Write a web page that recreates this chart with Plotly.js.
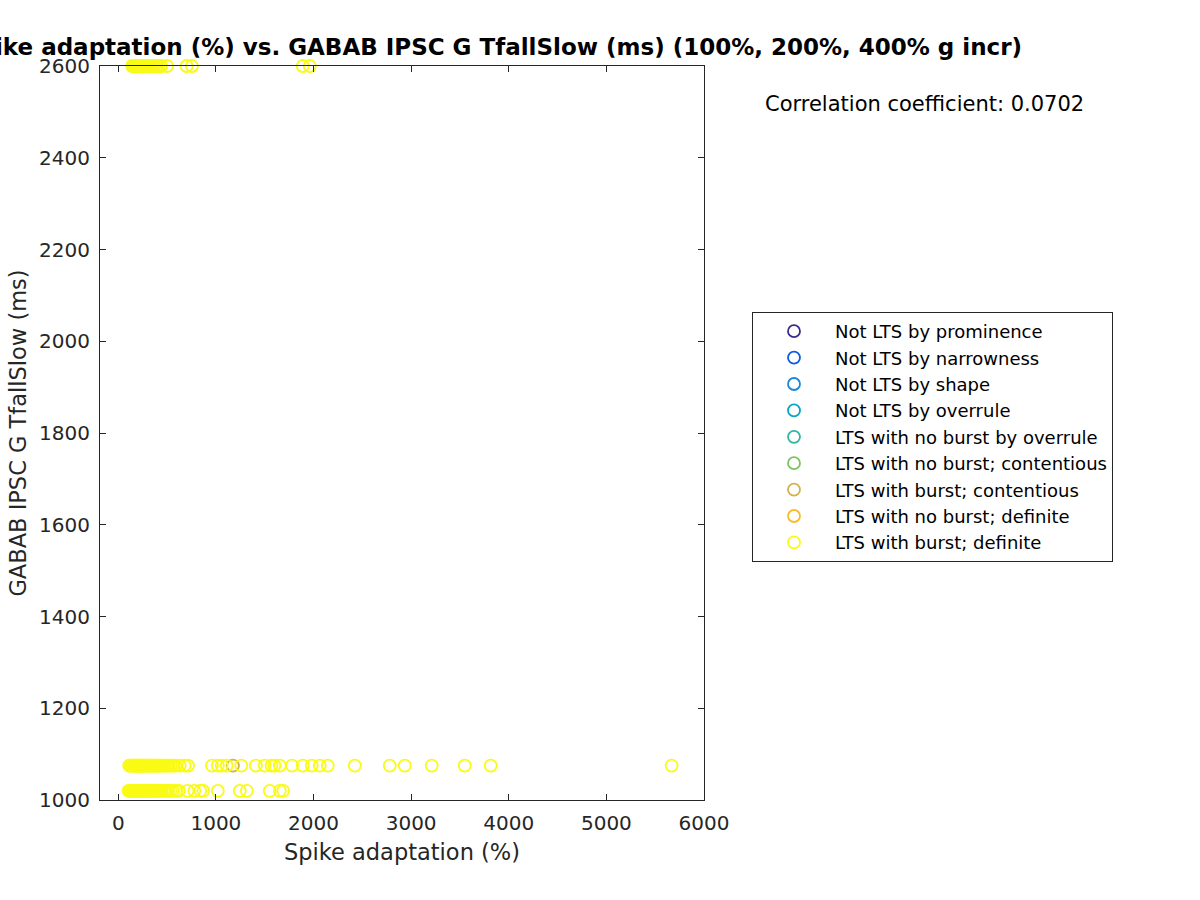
<!DOCTYPE html>
<html>
<head>
<meta charset="utf-8">
<script src="https://cdn.plot.ly/plotly-3.0.1.min.js"></script>
<style>html,body{margin:0;padding:0;background:#fff;}#chart{width:1200px;height:900px;}</style>
</head>
<body>
<div id="chart"></div>
<script>
// Category names (legend order)
var categories = [
  "Not LTS by prominence",
  "Not LTS by narrowness",
  "Not LTS by shape",
  "Not LTS by overrule",
  "LTS with no burst by overrule",
  "LTS with no burst; contentious",
  "LTS with burst; contentious",
  "LTS with no burst; definite",
  "LTS with burst; definite"
];
var categoryColors = ["#3B2A8E","#0A5CE0","#1B87DA","#05A5C8","#2EB69F","#80C162","#D3B24B","#FCBB2D","#F9FB15"];

// Y levels (ms) at which points sit
var yLevels = [2600, 1075, 1020];

// "LTS with burst; definite": spike adaptation (%) at each level
var xBurstDef2600 = [142, 155, 168, 180, 192, 205, 218, 232, 246, 261, 277, 293, 310, 328, 347, 367, 390, 415, 440, 500, 700, 755, 1890, 1962];
var xBurstDef1075 = [112, 125, 138, 146, 155, 163, 172, 181, 190, 198, 207, 215, 224, 233, 241, 250, 262, 271, 283, 295, 306, 318, 330, 342, 355, 368, 381, 395, 410, 426, 442, 460, 478, 497, 518, 540, 562, 585,
                     630, 680, 715, 960, 1020, 1060, 1110, 1260, 1410, 1500, 1570, 1600, 1655, 1780, 1890, 1982, 2064, 2146, 2423, 2781, 2935, 3211, 3549, 3815, 5668];
var xBurstDef1020 = [105, 118, 130, 141, 152, 161, 170, 180, 189, 199, 208, 218, 229, 240, 251, 263, 275, 288, 301, 314, 328, 343, 358, 374, 390, 407, 425, 444, 465, 487, 510, 535, 560, 590,
                     620, 710, 780, 840, 870, 1020, 1245, 1317, 1552, 1655, 1690];

// "LTS with burst; contentious"
var xBurstCont = [1175];
var yBurstCont = [1075];

var xAxisTicks = [0, 1000, 2000, 3000, 4000, 5000, 6000];
var yAxisTicks = [1000, 1200, 1400, 1600, 1800, 2000, 2200, 2400, 2600];

var corrText = "Correlation coefficient: 0.0702";

function levelArray(xs, y) { return xs.map(function () { return y; }); }

var xBurstDef = xBurstDef2600.concat(xBurstDef1075, xBurstDef1020);
var yBurstDef = levelArray(xBurstDef2600, yLevels[0]).concat(levelArray(xBurstDef1075, yLevels[1]), levelArray(xBurstDef1020, yLevels[2]));

var seriesX = [[null],[null],[null],[null],[null],[null], xBurstCont, [null], xBurstDef];
var seriesY = [[null],[null],[null],[null],[null],[null], yBurstCont, [null], yBurstDef];

var traces = categories.map(function (name, i) {
  return {
    type: "scatter",
    mode: "markers",
    name: name,
    x: seriesX[i],
    y: seriesY[i],
    cliponaxis: false,
    marker: { symbol: "circle-open", size: 12, color: categoryColors[i], line: { width: 1.8, color: categoryColors[i] } },
    hoverinfo: "x+y"
  };
});

var fontFam = "DejaVu Sans, sans-serif";
var axisCommon = {
  showgrid: false,
  zeroline: false,
  showline: true,
  linecolor: "#262626",
  linewidth: 1,
  mirror: "allticks",
  ticks: "inside",
  ticklen: 6,
  tickcolor: "#262626",
  tickfont: { family: fontFam, size: 20, color: "#262626" }
};

var layout = {
  width: 1200,
  height: 900,
  paper_bgcolor: "#ffffff",
  plot_bgcolor: "#ffffff",
  margin: { l: 100, r: 496, t: 66, b: 100 },
  showlegend: true,
  title: {
    text: "Spike adaptation (%) vs. GABAB IPSC G TfallSlow (ms) (100%, 200%, 400% g incr)",
    font: { family: fontFam, size: 23, color: "#000000", weight: "bold" },
    xref: "paper", x: (492 - 100) / 604, xanchor: "center",
    yref: "container", y: 1 - 47 / 900, yanchor: "middle"
  },
  xaxis: Object.assign({}, axisCommon, {
    range: [-187, 6000],
    tickvals: xAxisTicks,
    ticktext: xAxisTicks.map(String),
    ticklabelstandoff: 5,
    title: { text: "Spike adaptation (%)", font: { family: fontFam, size: 22.5, color: "#262626" }, standoff: 10 }
  }),
  yaxis: Object.assign({}, axisCommon, {
    range: [1000, 2600],
    tickvals: yAxisTicks,
    ticktext: yAxisTicks.map(String),
    ticklabelstandoff: 5,
    title: { text: "GABAB IPSC G TfallSlow (ms)", font: { family: fontFam, size: 22.5, color: "#262626" }, standoff: 6 }
  }),
  legend: {
    x: (752 - 100) / 604, xanchor: "left",
    y: (800 - 312) / 734, yanchor: "top",
    bgcolor: "#ffffff",
    bordercolor: "#262626",
    borderwidth: 1,
    tracegroupgap: 0,
    itemwidth: 72,
    font: { family: fontFam, size: 18, color: "#000000" }
  },
  annotations: [{
    text: corrText,
    xref: "paper", yref: "paper",
    x: (763 - 100) / 604, xanchor: "left",
    y: (800 - 104) / 734, yanchor: "middle",
    showarrow: false,
    font: { family: fontFam, size: 21, color: "#000000" }
  }]
};

Plotly.newPlot("chart", traces, layout, { displayModeBar: false, staticPlot: true });
</script>
</body>
</html>
